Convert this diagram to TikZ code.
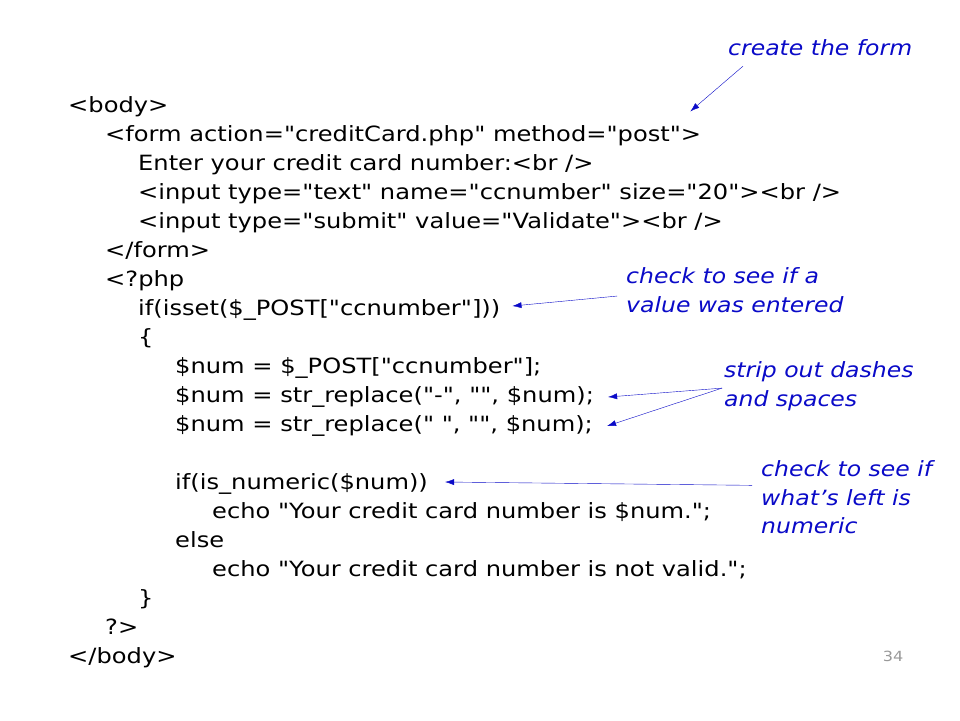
\documentclass[tikz,border=0pt]{standalone}
\usepackage{fontspec}
\usepackage{tikz}
\usetikzlibrary{arrows.meta}
\newfontfamily\codefont{DejaVu Sans}[FakeStretch=1.15]
\newfontfamily\notefont{DejaVu Sans}[FakeStretch=1.12]
\definecolor{noteblue}{RGB}{10,10,200}

\begin{document}
\begin{tikzpicture}[x=1pt,y=-1pt,
	code/.style={anchor=base west,inner sep=0pt,font=\codefont\fontsize{21}{25}\selectfont},
	note/.style={anchor=north west,inner sep=0pt,align=left,text=noteblue,font=\notefont\itshape\fontsize{21}{28.5}\selectfont},
	pointer/.style={draw=noteblue,-{Latex[length=9pt,width=6pt]}}]
	\useasboundingbox[fill=white] (0,0) rectangle (960,720);
	% the code
	\node[code] (body) at (68,112.5) {<body>};
	\node[code] (form) at (105,141.5) {<form action="creditCard.php" method="post">};
	\node[code] (enter) at (138,170.5) {Enter your credit card number:<br />};
	\node[code] (text) at (138,199.5) {<input type="text" name="ccnumber" size="20"><br />};
	\node[code] (submit) at (138,228.5) {<input type="submit" value="Validate"><br />};
	\node[code] (endform) at (105,257.5) {</form>};
	\node[code] (php) at (105,286.5) {<?php};
	\node[code] (isset) at (138,315.5) {if(isset(\$\_POST["ccnumber"]))};
	\node[code] (open) at (138,344.5) {\{};
	\node[code] (num) at (175,373.5) {\$num = \$\_POST["ccnumber"];};
	\node[code] (dash) at (175,402.5) {\$num = str\_replace("-", "", \$num);};
	\node[code] (space) at (175,431.5) {\$num = str\_replace(" ", "", \$num);};
	\node[code] (isnum) at (175,489.5) {if(is\_numeric(\$num))};
	\node[code] (yes) at (212,518.5) {echo "Your credit card number is \$num.";};
	\node[code] (else) at (175,547.5) {else};
	\node[code] (no) at (212,576.5) {echo "Your credit card number is not valid.";};
	\node[code] (close) at (138,605.5) {\}};
	\node[code] (endphp) at (105,634.5) {?>};
	\node[code] (endbody) at (68,663.5) {</body>};
	% the notes
	\node[note] (cform) at (728,39.5) {create the form};
	\node[note] (cvalue) at (626,267.5) {check to see if a\\value was entered};
	\node[note] (cstrip) at (724,361.5) {strip out dashes\\and spaces};
	\node[note] (cnum) at (761,460.5) {check to see if\\what’s left is\\numeric};
	\node[anchor=base,inner sep=0pt,text=black!40,font=\codefont\fontsize{14}{16}\selectfont] (page) at (893,661) {34};
	% the arrows
	\draw[pointer] ([xshift=15pt,yshift=-10pt]cform.south west) -- ([xshift=-11pt,yshift=14pt]form.north east);
	\draw[pointer] ([xshift=-9pt,yshift=-6pt]cvalue.west) -- ([xshift=12pt,yshift=4pt]isset.east);
	\draw[pointer] ([xshift=-2pt,yshift=-2pt]cstrip.west) -- ([xshift=14pt]dash.east);
	\draw[pointer] ([xshift=-2pt,yshift=-2pt]cstrip.west) -- ([xshift=14pt]space.east);
	\draw[pointer] ([xshift=-9pt,yshift=12pt]cnum.west) -- ([xshift=17pt,yshift=2pt]isnum.east);
\end{tikzpicture}
\end{document}
